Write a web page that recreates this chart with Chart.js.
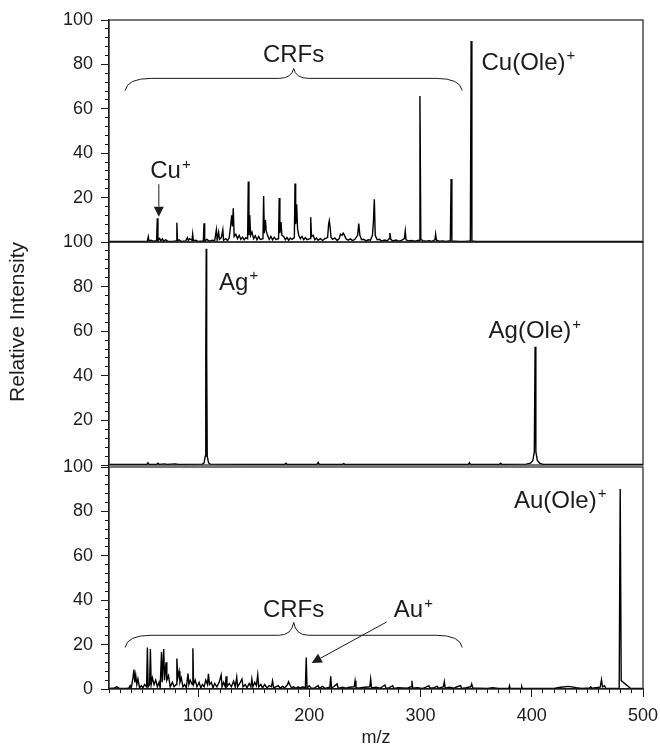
<!DOCTYPE html>
<html>
<head>
<meta charset="utf-8">
<script src="https://cdn.jsdelivr.net/npm/chart.js@4.4.1/dist/chart.umd.min.js"></script>
<style>
	html, body { margin: 0; padding: 0; background: #fff; }
	#wrap { position: relative; width: 660px; height: 746px; }
	#wrap canvas { position: absolute; left: 0; top: 0; }
</style>
</head>
<body>
<div id="wrap">
	<canvas id="cuChart" width="660" height="746"></canvas>
	<canvas id="agChart" width="660" height="746"></canvas>
	<canvas id="auChart" width="660" height="746"></canvas>
</div>
<script>
// Spectra: [m/z, relative intensity]
const cuSpectrum = [
	[20,0.2],[52,0.3],[54.5,0.4],[55.3,2.4],[56,0.5],[58,0.8],[59.5,0.4],[62.8,0.6],[63.4,10.7],[64,0.6],
	[65.5,1.6],[66.5,0.5],[68,1.4],[69,0.4],[71,1.0],[73,0.3],[77,0.3],[80.4,0.5],[81,8.7],[81.6,0.6],
	[83,1.0],[85,0.3],[89,0.5],[90.5,2.0],[91.3,0.6],[92.5,1.5],[94.6,0.8],[95.2,3.6],[95.8,0.6],[98,0.8],
	[100,0.3],[104.8,0.5],[105.4,8.4],[106,0.5],[108,1.2],[110,0.4],[113,0.8],[115,0.5],[116.5,5.5],[117.2,1.0],
	[118.5,4.5],[119.3,1.2],[121,2.0],[122.3,5.5],[123,0.8],[125,1.5],[126.5,0.6],[128,1.8],[129.5,8],[130.3,12],
	[131,7],[131.7,15.2],[132.5,2.5],[134,3.5],[135.5,1.5],[137,3],[138.5,1.2],[140,2.2],[141.5,1.0],[143,2],
	[144.6,1.5],[145.2,27.2],[145.8,3],[146.5,12.2],[147.3,3],[148.5,4.5],[150,1.5],[151.5,2.8],[153,1],[154.5,2.5],
	[156,1.2],[158.4,1.5],[159,20.7],[159.6,4],[160.6,10],[161.3,5],[162.5,3],[164,1.2],[165.5,2.5],[167,1.0],
	[168.5,2.2],[170,1.2],[172.4,1.5],[173,19.8],[173.6,4],[174.6,9],[175.4,3],[177,2.5],[178.5,1],[180,2],
	[181.5,0.8],[183,1.8],[184.5,1.2],[186.6,2],[187.2,26.4],[187.8,8],[188.7,17],[189.5,6],[190.5,3],[192,1.5],
	[193.5,2.5],[195,1],[196.5,2],[198,1],[200.7,1.5],[201.3,11.2],[202,2.5],[203.5,3],[205,1],[206.5,1.8],
	[208,0.8],[210,1.5],[212,0.7],[214,1.5],[216.5,2],[217.4,8],[218,9.6],[218.8,6.5],[219.6,2],[221,1.2],
	[223,1.8],[225,0.7],[227,1.5],[228,3.5],[229.5,3],[230.5,4],[231.5,3.2],[233,1.5],[235,0.8],[237,1.4],
	[239,0.6],[241,1.2],[243.5,3],[244.5,8.3],[245.5,3],[247,1],[249,1.2],[251,0.5],[253,1.0],[255,0.8],
	[256.8,3],[257.6,8.4],[258.5,19.2],[259.3,3],[261,1.0],[263,1.2],[265,0.5],[268,0.9],[270,0.5],[271.8,1.5],
	[272.5,4],[273.3,1.2],[275,0.5],[278,0.9],[280,0.4],[283,0.7],[285.5,1.5],[286.3,5],[287,1],[289,0.5],
	[292,0.7],[295,0.4],[298.7,0.8],[299.5,65.8],[300.3,1.2],[302,0.6],[305,0.4],[308,0.6],[310,0.3],[313,1],
	[313.6,3.5],[314.3,0.8],[317,0.4],[320,0.5],[323,0.3],[326.8,0.6],[327.5,28.4],[328.2,0.5],[331,0.4],[335,0.3],
	[340,0.3],[344.8,0.5],[345.5,90.5],[346.2,0.5],[350,0.3],[380,0.25],[420,0.2],[460,0.2],[500,0.2]
];

const agSpectrum = [
	[20,0.3],[54,0.3],[55,1.0],[56,0.3],[63,0.3],[64,0.8],[65,0.3],[70,0.5],[72,0.3],[80,0.5],
	[82,0.3],[104,0.4],[105.5,1],[106.5,4],[107,50],[107.4,97],[107.8,50],[108.3,4],[109.5,1],[111,0.4],
	[150,0.3],[178,0.3],[179,0.8],[180,0.3],[207,0.3],[208,1.2],[209,0.3],[230,0.3],[231,0.6],[232,0.3],
	[300,0.3],[343,0.3],[344,1.0],[345,0.3],[371,0.3],[372,0.8],[373,0.3],[395,0.4],[399,0.8],[401,2],
	[402.3,6],[403,53],[403.7,6],[405,2],[407,0.8],[410,0.3],[500,0.3]
];

const auSpectrum = [
	[20,0.3],[25,0.5],[27,1.0],[29,0.4],[36,0.3],[38,0.5],[39,1.5],[40,0.4],[41.5,5],[42.4,8.7],
	[43.2,3],[44,6.3],[45,2],[46,4.5],[47.5,0.5],[49,1.5],[50.5,0.5],[52,2],[53.8,1],[54.5,18.7],
	[55.2,1],[56.5,2],[57.2,18],[57.9,2],[59,5],[60.5,2],[62,4],[63.5,1],[65,3],[66,0.5],
	[67.2,16.6],[67.8,3],[69.2,18],[69.9,4],[71.3,12],[72,4],[73.5,6],[75,1],[77,3],[78.5,1],
	[80.4,2],[81,13.7],[81.8,5],[83,8],[83.8,3],[85,5],[86.5,1],[88,2],[89.5,0.5],[91,7],
	[91.8,2],[93,4],[94.8,2],[95.4,18.3],[96,2],[97.5,4],[99,1],[101,3],[102.5,0.5],[104,2],
	[105.5,1],[107,4],[108.5,2],[109.4,6.8],[110.3,2],[112,3],[113.5,0.5],[115,2.5],[117,1],[119,3],
	[120.8,6.3],[121.6,1],[123,3],[124.5,1],[125.3,5.7],[126,1],[128,2.5],[130,1],[132,3.5],[133.5,1],
	[134.8,5.3],[135.6,1],[137.5,2.5],[139.5,4.5],[140.5,1],[142.5,2],[144,0.5],[146,2.5],[147.5,1],[148.4,4.5],
	[149.3,1],[151,3],[152.5,1.5],[153.7,6.3],[154.6,1],[156.5,2],[158,0.5],[160,2],[162,0.5],[164,1.5],
	[166,1],[167,3.7],[168,0.5],[170,1],[172,1.5],[174,0.4],[176,1.2],[178,0.5],[180.5,2],[181.4,3.3],
	[182.5,2],[184,0.5],[186,1],[188,0.3],[190,1],[192,0.4],[194,1],[196.5,0.5],[197.3,14.2],[198,0.5],
	[200,1.5],[202,0.3],[205,0.5],[208,1.5],[209,0.3],[212,1.2],[214,0.3],[218.5,0.8],[219.3,5.7],[220,0.5],
	[222,1],[225,2.3],[226,0.3],[230,0.8],[233,0.4],[236,0.8],[240.4,1],[241.2,3.7],[242,0.5],[246,0.6],
	[250,0.8],[254.4,1],[255.2,4.5],[256,0.5],[260,0.8],[264,0.4],[268,1.8],[269,0.3],[272,0.6],[275,1.5],
	[276,0.3],[280,0.6],[284,0.5],[288,0.4],[291.5,1],[292.3,3.7],[293,0.4],[297,0.6],[302,0.3],[305,0.8],
	[307.5,1.5],[308.5,0.4],[312,0.6],[315,1.2],[316,0.3],[320.6,1],[321.4,3.3],[322.2,0.4],[326,0.8],[330,0.4],
	[333,1],[336,1.5],[337,0.3],[341,0.6],[345.2,1],[346,2.3],[347,0.5],[352,0.4],[360,0.3],[365,0.6],
	[370,0.3],[379.4,0.3],[380,1.5],[380.6,0.3],[390.5,0.3],[391,1],[391.5,0.3],[400,0.3],[420,0.3],[426,0.8],
	[433,1.2],[440,0.6],[445,0.3],[452,0.5],[453,1],[454,0.4],[461.5,0.8],[462.7,4.2],[463.6,1],[465.4,1.5],
	[466.5,0.3],[478.6,0.3],[479.5,90.1],[480.4,3.8],[489,0.2],[500,0.2]
];

const mzRange = [20, 500];
const intensityRange = [0, 100];
const xLabels = [100, 200, 300, 400, 500];
const yLabels = [0, 20, 40, 60, 80, 100];

const INK = '#1c1c1c';
const LINE = '#000';
const FAMILY = "'Liberation Sans', Arial, Helvetica, sans-serif";
Chart.defaults.font.family = FAMILY;
Chart.defaults.color = INK;

// frame round the plot area
const framePlugin = {
	id: 'frame',
	afterDraw(chart) {
		const { ctx, chartArea: a } = chart;
		ctx.save();
		ctx.strokeStyle = INK;
		ctx.lineWidth = 1.2;
		ctx.strokeRect(a.left, a.top, a.right - a.left, a.bottom - a.top);
		ctx.restore();
	}
};

// labels, braces and arrows placed in data units
const marksPlugin = {
	id: 'marks',
	afterDatasetsDraw(chart, args, opts) {
		const { ctx, scales: { x, y } } = chart;
		const px = v => x.getPixelForValue(v);
		const py = v => y.getPixelForValue(v);
		ctx.save();
		ctx.strokeStyle = INK;
		ctx.fillStyle = INK;
		ctx.lineWidth = 1;

		(opts.braces || []).forEach(b => {
			const xl = px(b.from), xr = px(b.to), xm = (xl + xr) / 2;
			const ye = py(b.end), yl = py(b.line), yt = py(b.tip);
			ctx.beginPath();
			ctx.moveTo(xl, ye);
			ctx.quadraticCurveTo(xl + 2, yl, xl + 26, yl);
			ctx.lineTo(xm - 15, yl);
			ctx.quadraticCurveTo(xm - 2, yl, xm, yt);
			ctx.quadraticCurveTo(xm + 2, yl, xm + 15, yl);
			ctx.lineTo(xr - 26, yl);
			ctx.quadraticCurveTo(xr - 2, yl, xr, ye);
			ctx.stroke();
		});

		(opts.arrows || []).forEach(a => {
			const x1 = px(a.from[0]), y1 = py(a.from[1]);
			const x2 = px(a.to[0]), y2 = py(a.to[1]);
			const ang = Math.atan2(y2 - y1, x2 - x1);
			const len = 10, half = 5;
			const bx = x2 - len * Math.cos(ang), by = y2 - len * Math.sin(ang);
			ctx.beginPath();
			ctx.moveTo(x1, y1);
			ctx.lineTo(bx, by);
			ctx.stroke();
			ctx.beginPath();
			ctx.moveTo(x2, y2);
			ctx.lineTo(bx + half * Math.sin(ang), by - half * Math.cos(ang));
			ctx.lineTo(bx - half * Math.sin(ang), by + half * Math.cos(ang));
			ctx.closePath();
			ctx.fill();
		});

		(opts.labels || []).forEach(l => {
			ctx.textBaseline = 'middle';
			ctx.textAlign = 'left';
			ctx.font = '24px ' + FAMILY;
			const w = ctx.measureText(l.text).width;
			ctx.font = '15px ' + FAMILY;
			const sw = l.sup ? ctx.measureText(l.sup).width + 1 : 0;
			let x0 = px(l.x);
			if (l.align === 'center') x0 -= (w + sw) / 2;
			const y0 = py(l.y);
			ctx.font = '24px ' + FAMILY;
			ctx.fillText(l.text, x0, y0);
			if (l.sup) {
				ctx.font = '15px ' + FAMILY;
				ctx.fillText(l.sup, x0 + w + 1, y0 - 7);
			}
		});
		ctx.restore();
	}
};

const isMajorY = v => yLabels.includes(v);
const isMajorX = v => xLabels.includes(v);

function makePanel(id, spectrum, panel) {
	return new Chart(document.getElementById(id), {
		type: 'line',
		data: {
			datasets: [{
				data: spectrum.map(p => ({ x: p[0], y: p[1] })),
				borderColor: LINE,
				borderWidth: 1.4,
				pointRadius: 0,
				tension: 0,
				fill: false
			}]
		},
		options: {
			responsive: false,
			animation: false,
			events: [],
			layout: { padding: { top: panel.top, bottom: panel.showX ? 0 : 746 - panel.bottom, left: 0, right: 17 } },
			plugins: {
				legend: { display: false },
				tooltip: { enabled: false },
				marks: panel.marks
			},
			scales: {
				x: {
					type: 'linear',
					min: mzRange[0],
					max: mzRange[1],
					display: panel.showX,
					afterFit: s => {
						if (!panel.showX) return;
						s.height = 746 - panel.bottom;
						s.paddingLeft = 0;
						s.paddingRight = 15;
					},
					border: { color: INK, width: 1.2 },
					grid: {
						drawOnChartArea: false,
						tickLength: 8,
						color: INK,
						tickBorderDash: c => (c.tick && isMajorX(c.tick.value)) ? [] : [4, 100]
					},
					ticks: {
						stepSize: 10,
						maxTicksLimit: 100,
						autoSkip: false,
						maxRotation: 0,
						padding: 8,
						color: INK,
						font: { size: 18 },
						callback: v => isMajorX(v) ? v : ''
					},
					title: {
						display: panel.showX,
						text: 'm/z',
						color: INK,
						font: { size: 18, lineHeight: 1 },
						padding: { top: 0, bottom: -1 }
					}
				},
				y: {
					type: 'linear',
					min: intensityRange[0],
					max: intensityRange[1],
					afterFit: s => { s.width = 109; },
					border: { color: INK, width: 1.2 },
					grid: {
						drawOnChartArea: false,
						tickLength: 8,
						color: INK,
						tickBorderDash: c => (c.tick && isMajorY(c.tick.value)) ? [] : [0, 4, 4, 100]
					},
					ticks: {
						stepSize: 4,
						maxTicksLimit: 100,
						autoSkip: false,
						padding: 8,
						color: INK,
						font: { size: 18 },
						callback: v => (isMajorY(v) && (v !== 0 || panel.showZero)) ? v : ''
					},
					title: {
						display: !!panel.yTitle,
						text: panel.yTitle || '',
						align: 'end',
						color: INK,
						font: { size: 21, lineHeight: 1.2 },
						padding: { top: 6, bottom: 0 }
					}
				}
			}
		},
		plugins: [framePlugin, marksPlugin]
	});
}

makePanel('cuChart', cuSpectrum, {
	top: 20, bottom: 242, showX: false, showZero: false,
	marks: {
		labels: [
			{ text: 'CRFs', x: 185.9, y: 84.2, align: 'center' },
			{ text: 'Cu(Ole)', sup: '+', x: 354.8, y: 80.5 },
			{ text: 'Cu', sup: '+', x: 57.1, y: 31.7 }
		],
		braces: [{ from: 34.5, to: 337.5, end: 68.2, line: 73.7, tip: 78.2 }],
		arrows: [{ from: [64.8, 26], to: [64.8, 11.4] }]
	}
});

makePanel('agChart', agSpectrum, {
	top: 242, bottom: 465, showX: false, showZero: false, yTitle: 'Relative Intensity',
	marks: {
		labels: [
			{ text: 'Ag', sup: '+', x: 118.9, y: 81.5 },
			{ text: 'Ag(Ole)', sup: '+', x: 361.2, y: 59.8 }
		]
	}
});

makePanel('auChart', auSpectrum, {
	top: 467, bottom: 689, showX: true, showZero: true,
	marks: {
		labels: [
			{ text: 'Au(Ole)', sup: '+', x: 384, y: 84.6 },
			{ text: 'CRFs', x: 185.9, y: 35.6, align: 'center' },
			{ text: 'Au', sup: '+', x: 276, y: 35.2 }
		],
		braces: [{ from: 34.5, to: 337.5, end: 18.7, line: 24.2, tip: 30 }],
		arrows: [{ from: [269.6, 30.2], to: [202.2, 11.7] }]
	}
});
</script>
</body>
</html>
